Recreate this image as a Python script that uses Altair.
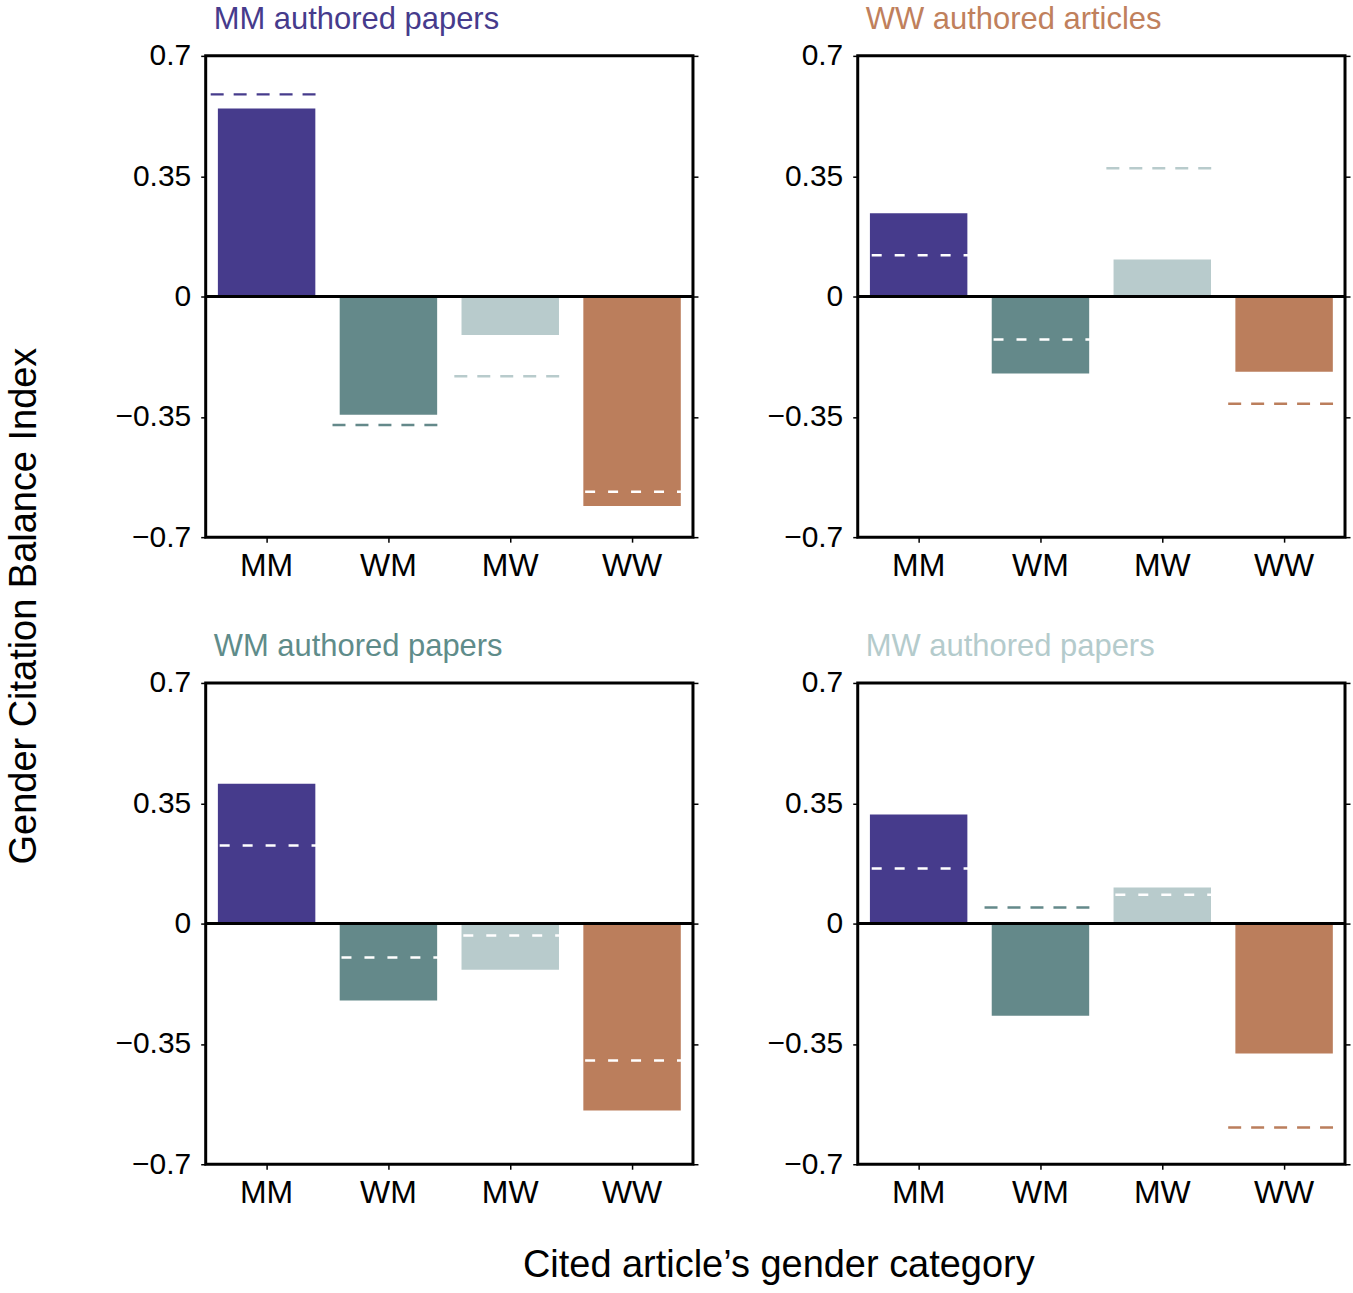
import altair as alt
import pandas as pd

cats = ["MM", "WM", "MW", "WW"]
cat_colors = ["#463b8c", "#64898a", "#b8cbcc", "#bb7e5c"]
panel_titles = ["MM authored papers", "WW authored articles", "WM authored papers", "MW authored papers"]
title_colors = ["#463b8c", "#c0805c", "#5f8c8a", "#b4cbcc"]

bars_mm = [0.547, -0.344, -0.112, -0.609]
bars_ww = [0.242, -0.224, 0.108, -0.219]
bars_wm = [0.407, -0.224, -0.134, -0.544]
bars_mw = [0.317, -0.268, 0.105, -0.378]
ref_mm = [0.588, -0.374, -0.232, -0.568]
ref_ww = [0.120, -0.125, 0.373, -0.312]
ref_wm = [0.227, -0.099, -0.035, -0.398]
ref_mw = [0.160, 0.047, 0.084, -0.593]

bar_sets = [bars_mm, bars_ww, bars_wm, bars_mw]
ref_sets = [ref_mm, ref_ww, ref_wm, ref_mw]
tick_vals = [-0.7, -0.35, 0, 0.35, 0.7]

FONT = "Liberation Sans"
W, H = 488, 482


def panel(i):
    rows = []
    for c, col, b, r in zip(cats, cat_colors, bar_sets[i], ref_sets[i]):
        inside = (b * r > 0) and abs(r) < abs(b)
        rows.append({"cat": c, "bar": b, "ref": r, "inside": inside,
                     "dcol": "#ffffff" if inside else col})
    df = pd.DataFrame(rows)
    base = alt.Chart(df)
    yscale = alt.Scale(domain=[-0.7, 0.7], nice=False, zero=False)
    xenc = alt.X("cat:N", sort=cats,
                 scale=alt.Scale(paddingInner=0.2, paddingOuter=0.1),
                 axis=alt.Axis(title=None, labelAngle=0, labelFontSize=32, labelFont=FONT,
                               labelColor="black", tickSize=5, tickColor="black", tickWidth=1.5,
                               domain=False, labelPadding=8))
    yaxis = alt.Axis(title=None, values=tick_vals, labelFontSize=30, labelFont=FONT,
                     labelColor="black", tickSize=5, tickColor="black", tickWidth=1.5,
                     domain=False, grid=False, labelPadding=10,
                     labelExpr="datum.value == 0 ? '0' : replace(format(datum.value, '.2~f'), '-', '\u2212')")
    bars = base.mark_bar().encode(
        x=xenc,
        y=alt.Y("bar:Q", scale=yscale, axis=yaxis),
        y2=alt.datum(0),
        color=alt.Color("cat:N", scale=alt.Scale(domain=cats, range=cat_colors), legend=None),
    )
    out_rules = base.transform_filter("!datum.inside").mark_rule(
        strokeDash=[13, 10], strokeWidth=2.5, xOffset=-56, x2Offset=56
    ).encode(
        x=alt.X("cat:N", sort=cats), x2=alt.X2("cat:N"),
        y=alt.Y("ref:Q", scale=yscale, axis=None),
        color=alt.Color("dcol:N", scale=None),
    )
    in_rules = base.transform_filter("datum.inside").mark_rule(
        strokeDash=[10, 13], strokeDashOffset=14, strokeWidth=2.5, xOffset=-56, x2Offset=56
    ).encode(
        x=alt.X("cat:N", sort=cats), x2=alt.X2("cat:N"),
        y=alt.Y("ref:Q", scale=yscale, axis=None),
        color=alt.value("#ffffff"),
    )
    zero = base.mark_rule(color="black", strokeWidth=3).encode(
        y=alt.Y("z:Q", scale=yscale, axis=None)
    ).transform_calculate(z="0").transform_filter("datum.cat == 'MM'")
    right_axis = base.mark_point(opacity=0).encode(
        y=alt.Y("ref:Q", scale=yscale,
                axis=alt.Axis(orient="right", title=None, labels=False, values=tick_vals,
                              tickSize=5, tickColor="black", tickWidth=1.5, domain=False, grid=False))
    )
    return alt.layer(bars, out_rules, in_rules, zero, right_axis).resolve_axis(y="independent").properties(
        width=W, height=H,
        title=alt.TitleParams(panel_titles[i], anchor="start", frame="group", color=title_colors[i],
                              fontSize=31, fontWeight="normal", font=FONT, dx=8, offset=5),
    )


grid = alt.vconcat(
    alt.hconcat(panel(0), panel(1), spacing=64),
    alt.hconcat(panel(2), panel(3), spacing=64),
    spacing=46,
).properties(
    title=alt.TitleParams("Gender Citation Balance Index", orient="left", anchor="middle", fontSize=38,
                          fontWeight="normal", font=FONT, color="black", offset=70)
)

chart = alt.vconcat(grid).properties(
    title=alt.TitleParams("Cited article\u2019s gender category", orient="bottom", anchor="middle",
                          fontSize=38, fontWeight="normal", font=FONT, color="black", offset=37, dx=100),
    padding={"left": 5, "top": 1, "right": 0, "bottom": 5},
).configure(background="white").configure_view(stroke="black", strokeWidth=3)

chart.save("out.html", embed_options={"renderer": "svg", "actions": False})
